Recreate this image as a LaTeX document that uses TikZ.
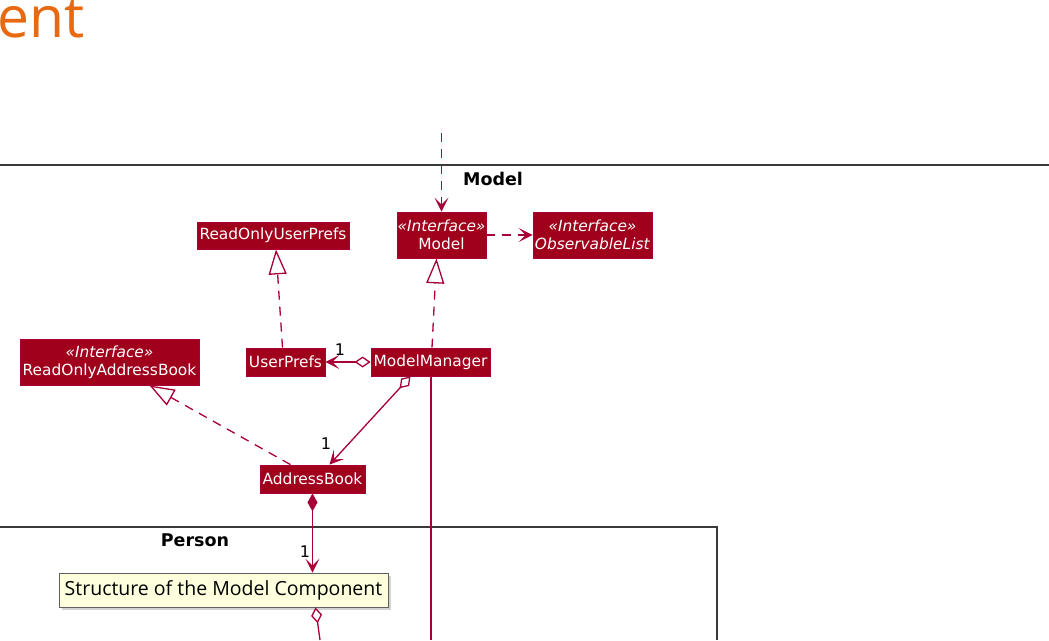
\documentclass[tikz,border=0pt]{standalone}
\usepackage{fontspec}
\setmainfont{DejaVu Sans}
\newfontfamily\notefont{Open Sans}
\usetikzlibrary{arrows.meta,shadows}
\definecolor{boxfill}{HTML}{A0001C}
\definecolor{umlred}{HTML}{A80036}
\definecolor{titleorange}{HTML}{E8690F}
\definecolor{notefill}{HTML}{FEFFDD}
\definecolor{pkgline}{HTML}{3A3A3A}
\begin{document}
\begin{tikzpicture}[x=1pt,y=-1pt,
  cls/.style={draw=umlred, fill=boxfill, text=white, font=\fontsize{15.4}{18}\selectfont, inner sep=0pt, line width=0.8pt, align=center},
  conn/.style={umlred, line width=1.3pt},
  dashedconn/.style={conn, dash pattern=on 9pt off 7pt},
  barb/.tip={Stealth[length=14pt,width=14pt,inset=7pt]},
  realize/.tip={Triangle[open,length=25pt,width=18pt,fill=white]},
  odia/.tip={Diamond[open,length=16pt,width=11pt,fill=white]},
  fdia/.tip={Diamond[length=18pt,width=10pt]},
  pkg/.style={pkgline, line width=1.6pt},
  pkglabel/.style={font=\bfseries\fontsize{17.5}{20}\selectfont, inner sep=0pt},
  mult/.style={font=\fontsize{16}{18}\selectfont, inner sep=0pt},
  notebox/.style={draw=gray!75!black, fill=notefill, line width=0.8pt, inner sep=0pt, font=\notefont\fontsize{19.5}{22}\selectfont, drop shadow={opacity=0.35, shadow xshift=3pt, shadow yshift=-3pt}}
]
\useasboundingbox (0,0) rectangle (1049,640);

% title fragment
\node[anchor=base west, inner sep=0pt, text=titleorange, font=\notefont\fontsize{57}{57}\selectfont] (title) at (-3,37) {ent};

% packages
\coordinate (mpkgL) at (0,165);
\coordinate (mpkgR) at (1049,165);
\draw[pkg] (mpkgL) -- (mpkgR);
\node[pkglabel] (modelpkg) at (493,179) {Model};
\coordinate (ppkgL) at (0,527);
\coordinate (ppkgC) at (717,527);
\coordinate (ppkgB) at (717,640);
\draw[pkg] (ppkgL) -- (ppkgC) -- (ppkgB);
\node[pkglabel] (personpkg) at (195,540) {Person};

% classes
\node[cls, minimum width=152, minimum height=27] (roup) at (273,235.5) {ReadOnlyUserPrefs};
\node[cls, minimum width=89, minimum height=46] (model) at (441.5,235) {\textit{«Interface»}\\Model};
\node[cls, minimum width=119, minimum height=46] (obs) at (592.5,235) {\textit{«Interface»}\\\textit{ObservableList}};
\node[cls, minimum width=79, minimum height=28] (up) at (285.5,362) {UserPrefs};
\node[cls, minimum width=119, minimum height=28] (mm) at (430.5,362) {ModelManager};
\node[cls, minimum width=179, minimum height=46] (roab) at (109.5,362) {\textit{«Interface»}\\ReadOnlyAddressBook};
\node[cls, minimum width=105, minimum height=28] (ab) at (312.5,479) {AddressBook};

% free ends
\coordinate (topin) at (441.5,133);
\coordinate (mmbot) at (431,640);
\coordinate (notebot) at (320,640);

% lines passing behind the note
\draw[conn] (mm.south -| mmbot) -- (mmbot);

% connectors
\draw[dashedconn, -barb] (topin) -- (model.north);
\draw[dashedconn, -barb] (model.east) -- (obs.west);
\draw[dashedconn, -realize] ([xshift=-3pt]up.north) -- ([xshift=3pt]roup.south);
\draw[dashedconn, -realize] ([xshift=1.5pt]mm.north) -- ([xshift=-5pt]model.south);
\draw[dashedconn, -realize] ([xshift=-22pt]ab.north) -- ([xshift=40pt]roab.south);
\draw[conn, odia-barb] (mm.west) -- (up.east);
\draw[conn, odia-barb] ([xshift=-20pt]mm.south) -- ([xshift=17pt]ab.north);

% note
\node[notebox, minimum width=329, minimum height=34] (note) at (223.5,590) {Structure of the Model Component};
\draw[conn, fdia-barb] (ab.south) -- (note.north -| ab.south);
\draw[conn, odia-] ([xshift=3pt]note.south -| ab.south) -- (notebot);

% multiplicities
\node[mult] (m1) at (340,350) {1};
\node[mult] (m2) at (326,444) {1};
\node[mult] (m3) at (305,552) {1};
\end{tikzpicture}
\end{document}
